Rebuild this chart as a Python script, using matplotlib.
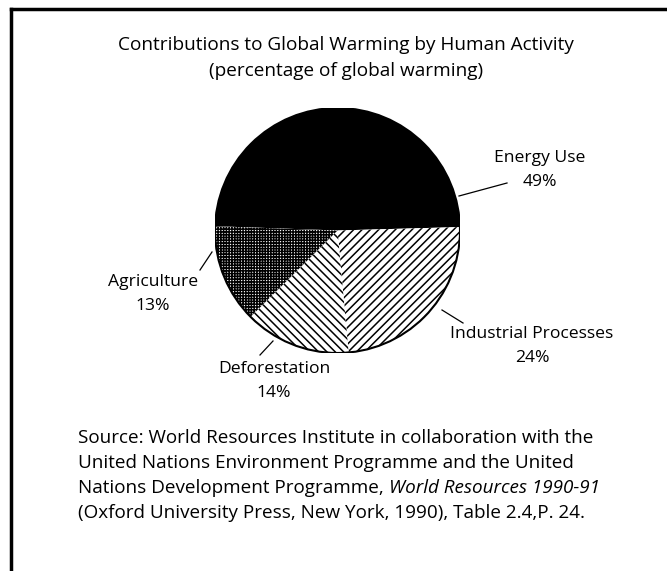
import matplotlib
matplotlib.use("Agg")
import matplotlib.pyplot as plt
from matplotlib.lines import Line2D
from matplotlib.patches import Circle
import numpy as np

plt.rcParams['font.family'] = ['Open Sans', 'DejaVu Sans']
plt.rcParams['hatch.linewidth'] = 1.1

# data
labels = ["Energy Use", "Industrial Processes", "Deforestation", "Agriculture"]
shares = [49, 24, 14, 13]
fills = ["black", "white", "white", "white"]
hatches = [None, "////", "\\\\\\\\", "++++++"]

title = "Contributions to Global Warming by Human Activity\n(percentage of global warming)"

W, H = 667, 571
fig = plt.figure(figsize=(W / 100, H / 100), dpi=100)
fig.patch.set_facecolor("white")

# frame lines (top and left)
fig.add_artist(Line2D([11 / W, 1], [1 - 9 / H, 1 - 9 / H], color="black", lw=2.5, transform=fig.transFigure))
fig.add_artist(Line2D([11 / W, 11 / W], [0, 1 - 9 / H], color="black", lw=2.5, transform=fig.transFigure))

fig.text(346 / W, 1 - 58 / H, title, ha="center", va="center", fontsize=13.7, linespacing=1.5)

# pie
cx, cy, r = 337.5, 230.5, 122.5
ax = fig.add_axes([(cx - r) / W, 1 - (cy + r) / H, 2 * r / W, 2 * r / H])
wedges, _ = ax.pie(shares, startangle=178, counterclock=False, colors=fills,
                   wedgeprops=dict(edgecolor="black", linewidth=0))
for w, h in zip(wedges, hatches):
    if h:
        w.set_hatch(h)
ax.add_patch(Circle((0, 0), 1, fill=False, edgecolor="black", lw=1.5))
ax.set_xlim(-1, 1)
ax.set_ylim(-1, 1)
ax.set_aspect("equal")
ax.axis("off")

# labels with leader lines (pixel positions converted to pie coordinates)
def to_data(px, py):
    return (px - cx) / r, (cy - py) / r

label_pos = [(540, 170), (532, 346), (274, 381), (153, 294)]
leaders = [((459, 196), (507, 183)), ((442, 310), (463, 323)),
           ((273, 341), (260, 355)), ((212, 252), (200, 270))]
for lab, val, pos, (p0, p1) in zip(labels, shares, label_pos, leaders):
    x0, y0 = to_data(*p0)
    x1, y1 = to_data(*p1)
    ax.plot([x0, x1], [y0, y1], color="black", lw=0.9, clip_on=False)
    tx, ty = to_data(*pos)
    ax.text(tx, ty, f"{lab}\n{val}%", ha="center", va="center", fontsize=12.6,
            linespacing=1.6, clip_on=False)

# source note
src_lines = [
    "Source: World Resources Institute in collaboration with the",
    "United Nations Environment Programme and the United",
    "Nations Development Programme, ",
    "(Oxford University Press, New York, 1990), Table 2.4,P. 24.",
]
x0 = 78 / W
ys = [438, 463, 488, 513]
fig.canvas.draw()
renderer = fig.canvas.get_renderer()
for txt, y in zip(src_lines, ys):
    t = fig.text(x0, 1 - y / H, txt, ha="left", va="center", fontsize=13.6)
    if txt.startswith("Nations Development"):
        bb = t.get_window_extent(renderer)
        fig.text(bb.x1 / W, 1 - y / H, "World Resources 1990-91", ha="left",
                 va="center", fontsize=13.6, style="italic")

fig.savefig("out.png", dpi=100, facecolor="white")
